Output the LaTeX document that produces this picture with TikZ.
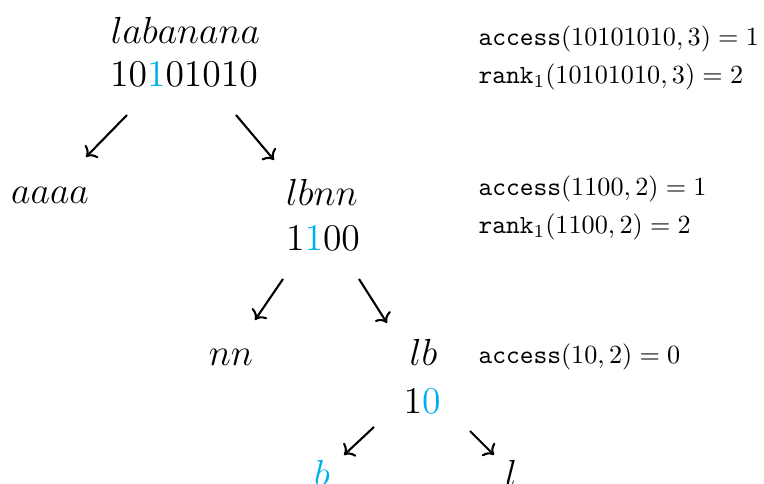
\documentclass[tikz,border=0pt]{standalone}
\usetikzlibrary{arrows.meta}
\definecolor{hl}{RGB}{0,174,239}
\begin{document}
\begin{tikzpicture}[
  x=0.3817pt, y=-0.3817pt,
  word/.style={anchor=base, inner sep=0pt, font=\Large},
  note/.style={anchor=base west, inner sep=0pt},
  edge/.style={->, line width=0.8pt}
]
\clip (0,0) rectangle (764,484);

% tree of strings and bit vectors
\node[word] (w0) at (185.5,44) {$labanana$};
\node[word] (b0) at (184,87) {$10\textcolor{hl}{1}01010$};
\node[word] (w1) at (50,204) {$aaaa$};
\node[word] (w2) at (322,206) {$lbnn$};
\node[word] (b2) at (323,251) {$1\textcolor{hl}{1}00$};
\node[word] (w3) at (231,366) {$nn$};
\node[word] (w4) at (423.5,366) {$lb$};
\node[word] (b4) at (422,414) {$1\textcolor{hl}{0}$};
\node[word] (w5) at (322,487) {$\textcolor{hl}{b}$};
\node[word] (w6) at (511,487) {$l$};

% arrow end points
\coordinate (p1s) at (127,115); \coordinate (p1e) at (86,157);
\coordinate (p2s) at (236,115); \coordinate (p2e) at (274,160);
\coordinate (p3s) at (283,279); \coordinate (p3e) at (255,320);
\coordinate (p4s) at (359,279); \coordinate (p4e) at (387,323);
\coordinate (p5s) at (374,427); \coordinate (p5e) at (344,455);
\coordinate (p6s) at (470,431); \coordinate (p6e) at (494,455);

\draw[edge] (p1s) -- (p1e);
\draw[edge] (p2s) -- (p2e);
\draw[edge] (p3s) -- (p3e);
\draw[edge] (p4s) -- (p4e);
\draw[edge] (p5s) -- (p5e);
\draw[edge] (p6s) -- (p6e);

% queries at each level
\node[note] (q1) at (478,46) {$\texttt{access}(10101010,3)=1$};
\node[note] (q2) at (478,84) {$\texttt{rank}_1(10101010,3)=2$};
\node[note] (q3) at (478,196) {$\texttt{access}(1100,2)=1$};
\node[note] (q4) at (478,234) {$\texttt{rank}_1(1100,2)=2$};
\node[note] (q5) at (478,364) {$\texttt{access}(10,2)=0$};
\end{tikzpicture}
\end{document}
